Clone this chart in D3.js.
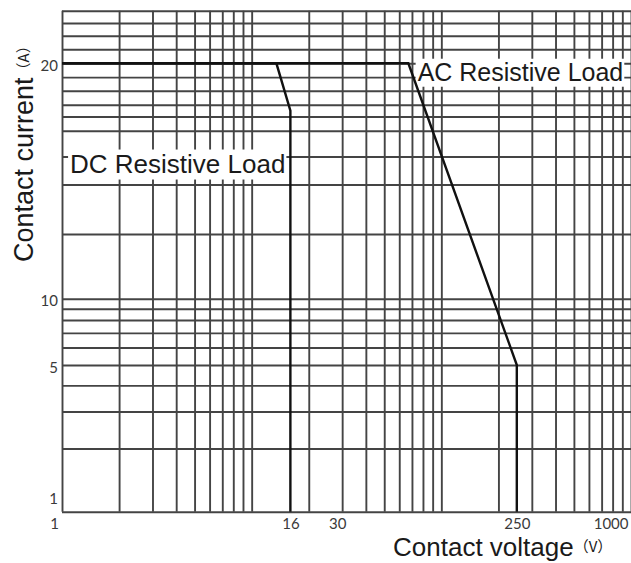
<!DOCTYPE html>
<html><head><meta charset="utf-8">
<script src="https://cdn.jsdelivr.net/npm/d3@7"></script>
<style>html,body{margin:0;padding:0;background:#fff;} svg{display:block;}</style>
</head><body>
<svg id="chart" width="631" height="563"></svg>
<script>
// ---- data ----
const xGridValues = [1,2,3,4,5,6,7,8,9,10,20,30,40,50,60,70,80,90,100,200,300,400,500,600,700,800,900,1000];
const yGridValues = [1,2,3,4,5,6,7,8,9,10,12.1,14,15.2,16.4,17.1,17.7,18.45,19.2,20,21,22,23,24];
const xTickLabels = [1,16,30,250,1000];
const yTickLabels = [1,5,10,20];
const dcVoltage = [1, 13.5, 16, 16];
const dcCurrent = [20, 20, 17.4, 1];
const acVoltage = [1, 67, 250, 250];
const acCurrent = [20, 20, 5, 1];
const seriesNames = ["DC Resistive Load", "AC Resistive Load"];
const labelVoltage = [16, 75];
const labelCurrent = [14.5, 19];
const yAnchors = [1, 5, 10, 20, 24];

// ---- layout ----
const plot = {left: 62, right: 631, top: 10.7, bottom: 511.7};
const innerH = plot.bottom - plot.top;
const yFrac = [0, 0.2928, 0.4251, 0.895, 1];

const svg = d3.select("#chart");
const x = d3.scaleLog().domain([1, 1000]).range([plot.left, plot.right]);
const y = d3.scaleLog().domain(yAnchors).range(yFrac.map(f => plot.bottom - f * innerH));

const gridColor = "#444";
// vertical grid
svg.append("g").attr("transform", `translate(0,${plot.bottom})`)
  .call(d3.axisBottom(x).tickValues(xGridValues).tickSize(-innerH).tickFormat(""))
  .call(g => g.select(".domain").remove())
  .selectAll("line").attr("stroke", gridColor).attr("stroke-width", 1.9);
// horizontal grid
svg.append("g").attr("transform", `translate(${plot.left},0)`)
  .call(d3.axisLeft(y).tickValues(yGridValues).tickSize(-(plot.right - plot.left)).tickFormat(""))
  .call(g => g.select(".domain").remove())
  .selectAll("line").attr("stroke", gridColor).attr("stroke-width", 1.9);

// x tick labels
const xa = svg.append("g").attr("transform", `translate(0,${plot.bottom})`)
  .call(d3.axisBottom(x).tickValues(xTickLabels).tickSize(0).tickFormat(d3.format("d")))
  .call(g => g.select(".domain").remove());
xa.selectAll("text").attr("y", 17.5).attr("dy", 0)
  .attr("font-family", "Lato, 'Open Sans', sans-serif").attr("font-size", 15).attr("fill", "#3a3a3a")
  .attr("text-anchor", d => (d === 1 || d === 1000) ? "end" : "middle")
  .attr("x", d => d === 1 ? -3.5 : (d === 1000 ? -3 : (d === 30 ? -5 : 0)));

// y tick labels
const ya = svg.append("g").attr("transform", `translate(${plot.left},0)`)
  .call(d3.axisLeft(y).tickValues(yTickLabels).tickSize(0).tickPadding(4).tickFormat(d3.format("d")))
  .call(g => g.select(".domain").remove());
ya.selectAll("text").attr("dy", 0)
  .attr("y", d => d === 1 ? -8.4 : 7)
  .attr("font-family", "Lato, 'Open Sans', sans-serif").attr("font-size", 15).attr("fill", "#3a3a3a");

// series labels with white boxes
const labelSizes = [26, 25];
const labelAnchor = ["end", "start"];
const labelDx = [-5, 0];
seriesNames.forEach((name, i) => {
  const g = svg.append("g");
  const t = g.append("text")
    .attr("x", x(labelVoltage[i]) + labelDx[i])
    .attr("y", y(labelCurrent[i]))
    .attr("text-anchor", labelAnchor[i])
    .attr("font-family", "'Liberation Sans', Arial, sans-serif")
    .attr("font-size", labelSizes[i]).attr("fill", "#1a1a1a")
    .text(name);
  const b = t.node().getBBox();
  g.insert("rect", "text").attr("x", b.x - 2).attr("y", b.y + 1).attr("width", b.width + 3).attr("height", b.height).attr("fill", "#fff");
});

// curves
const line = d3.line().x(d => x(d[0])).y(d => y(d[1]));
const curves = [d3.zip(dcVoltage, dcCurrent), d3.zip(acVoltage, acCurrent)];
svg.append("g").selectAll("path").data(curves).join("path")
  .attr("d", line).attr("fill", "none").attr("stroke", "#111").attr("stroke-width", 2.4)
  .attr("stroke-linejoin", "miter");

// axis titles
const xt = svg.append("text").attr("x", 393).attr("y", 555.5)
  .attr("font-family", "'Liberation Sans', Arial, sans-serif").attr("font-size", 26).attr("fill", "#1a1a1a");
xt.append("tspan").text("Contact voltage");
xt.append("tspan").attr("dy", -4).attr("font-size", 15).attr("font-family", "'Noto Sans CJK SC', sans-serif").text("（V）");

const yt = svg.append("text").attr("transform", "translate(33,262) rotate(-90)")
  .attr("font-family", "'Liberation Sans', Arial, sans-serif").attr("font-size", 27).attr("fill", "#1a1a1a");
yt.append("tspan").text("Contact current");
yt.append("tspan").attr("dy", -4).attr("font-size", 15).attr("font-family", "'Noto Sans CJK SC', sans-serif").text("（A）");
</script>
</body></html>
